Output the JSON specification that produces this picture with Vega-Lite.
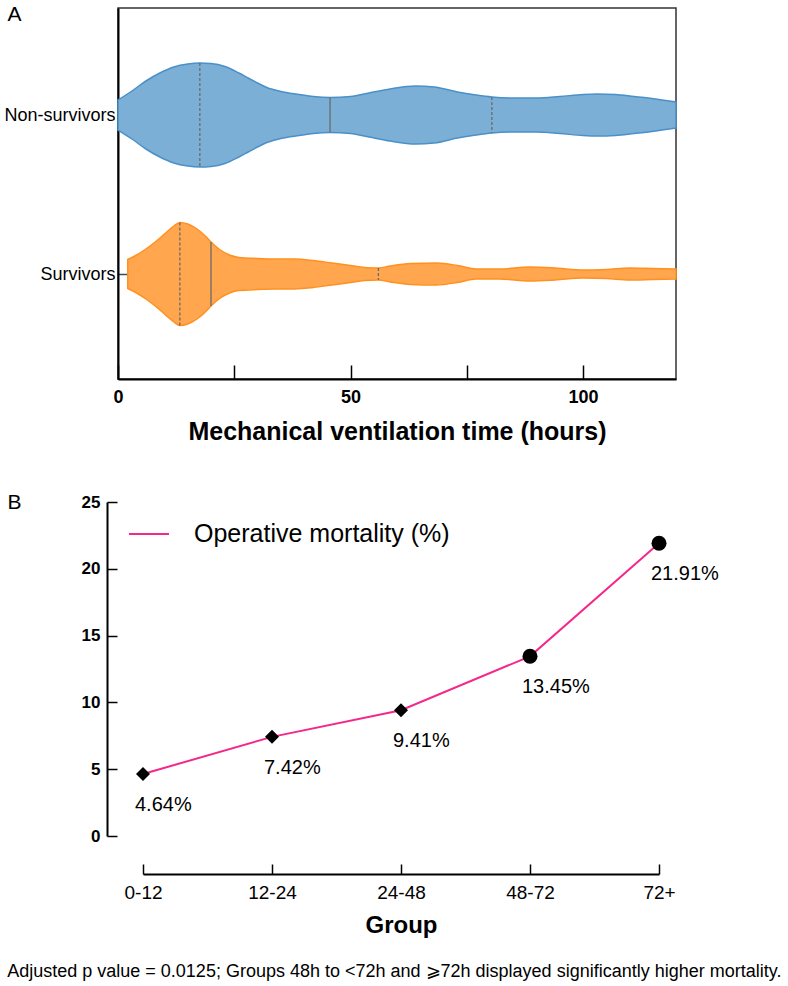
{
  "$schema": "https://vega.github.io/schema/vega-lite/v6.json",
  "background": "white",
  "padding": {"left": 3, "top": 2, "right": 5, "bottom": 5},
  "config": {"font": "Liberation Sans", "view": {"stroke": null}},
  "title": {
    "text": "Adjusted p value = 0.0125; Groups 48h to <72h and ⩾72h displayed significantly higher mortality.",
    "orient": "bottom", "anchor": "start", "fontSize": 18, "fontWeight": "normal",
    "color": "black", "offset": 26, "dx": 4
  },
  "resolve": {
    "scale": {"color": "independent", "stroke": "independent", "strokeDash": "independent", "shape": "independent", "size": "independent"},
    "legend": {"color": "independent"}
  },
  "columns": 1,
  "spacing": 46,
  "concat": [
    {
      "width": 558,
      "height": 371,
      "view": {"stroke": "#333", "strokeWidth": 1.5},
      "layer": [
        {
          "data": {"values": [
            {"group": "Non-survivors", "hours": 0, "upper": 279, "lower": 249},
            {"group": "Non-survivors", "hours": 3, "upper": 288, "lower": 240},
            {"group": "Non-survivors", "hours": 6, "upper": 298, "lower": 230},
            {"group": "Non-survivors", "hours": 9, "upper": 306, "lower": 222},
            {"group": "Non-survivors", "hours": 12, "upper": 312, "lower": 216},
            {"group": "Non-survivors", "hours": 15, "upper": 315, "lower": 213},
            {"group": "Non-survivors", "hours": 17.6, "upper": 316, "lower": 212},
            {"group": "Non-survivors", "hours": 20, "upper": 315.5, "lower": 212.5},
            {"group": "Non-survivors", "hours": 23, "upper": 312.5, "lower": 215.5},
            {"group": "Non-survivors", "hours": 26, "upper": 306, "lower": 222},
            {"group": "Non-survivors", "hours": 28, "upper": 301, "lower": 227},
            {"group": "Non-survivors", "hours": 30, "upper": 296, "lower": 232},
            {"group": "Non-survivors", "hours": 32, "upper": 291.5, "lower": 236.5},
            {"group": "Non-survivors", "hours": 35, "upper": 287.5, "lower": 240.5},
            {"group": "Non-survivors", "hours": 39, "upper": 284.5, "lower": 243.5},
            {"group": "Non-survivors", "hours": 42, "upper": 282.5, "lower": 245.5},
            {"group": "Non-survivors", "hours": 45.6, "upper": 281.5, "lower": 246.5},
            {"group": "Non-survivors", "hours": 50, "upper": 282.5, "lower": 245.5},
            {"group": "Non-survivors", "hours": 54, "upper": 286, "lower": 242},
            {"group": "Non-survivors", "hours": 58.5, "upper": 290, "lower": 238},
            {"group": "Non-survivors", "hours": 64, "upper": 293, "lower": 235},
            {"group": "Non-survivors", "hours": 68, "upper": 292, "lower": 236},
            {"group": "Non-survivors", "hours": 73, "upper": 287, "lower": 241},
            {"group": "Non-survivors", "hours": 77, "upper": 284, "lower": 244},
            {"group": "Non-survivors", "hours": 80.4, "upper": 282, "lower": 246},
            {"group": "Non-survivors", "hours": 85, "upper": 281, "lower": 247},
            {"group": "Non-survivors", "hours": 90, "upper": 281, "lower": 247},
            {"group": "Non-survivors", "hours": 95, "upper": 282.5, "lower": 245.5},
            {"group": "Non-survivors", "hours": 100, "upper": 284.5, "lower": 243.5},
            {"group": "Non-survivors", "hours": 103, "upper": 285, "lower": 243},
            {"group": "Non-survivors", "hours": 107, "upper": 284.5, "lower": 243.5},
            {"group": "Non-survivors", "hours": 111, "upper": 282.5, "lower": 245.5},
            {"group": "Non-survivors", "hours": 114, "upper": 281, "lower": 247},
            {"group": "Non-survivors", "hours": 117, "upper": 279, "lower": 249},
            {"group": "Non-survivors", "hours": 120, "upper": 277, "lower": 251},
            {"group": "Survivors", "hours": 2.1, "upper": 119.5, "lower": 90.5},
            {"group": "Survivors", "hours": 4, "upper": 124, "lower": 86},
            {"group": "Survivors", "hours": 6, "upper": 130, "lower": 80},
            {"group": "Survivors", "hours": 8, "upper": 137, "lower": 73},
            {"group": "Survivors", "hours": 10, "upper": 145, "lower": 65},
            {"group": "Survivors", "hours": 12, "upper": 153, "lower": 57},
            {"group": "Survivors", "hours": 13.3, "upper": 156.5, "lower": 53.5},
            {"group": "Survivors", "hours": 15, "upper": 155, "lower": 55},
            {"group": "Survivors", "hours": 17, "upper": 150, "lower": 60},
            {"group": "Survivors", "hours": 19, "upper": 142, "lower": 68},
            {"group": "Survivors", "hours": 20, "upper": 137, "lower": 73},
            {"group": "Survivors", "hours": 22, "upper": 129, "lower": 81},
            {"group": "Survivors", "hours": 24, "upper": 124, "lower": 86},
            {"group": "Survivors", "hours": 26, "upper": 121.5, "lower": 88.5},
            {"group": "Survivors", "hours": 30, "upper": 120.5, "lower": 89.5},
            {"group": "Survivors", "hours": 34, "upper": 120, "lower": 90},
            {"group": "Survivors", "hours": 38, "upper": 120, "lower": 90},
            {"group": "Survivors", "hours": 42, "upper": 118.5, "lower": 91.5},
            {"group": "Survivors", "hours": 46, "upper": 116, "lower": 94},
            {"group": "Survivors", "hours": 50, "upper": 113.5, "lower": 96.5},
            {"group": "Survivors", "hours": 53, "upper": 111.5, "lower": 98.5},
            {"group": "Survivors", "hours": 56, "upper": 111, "lower": 99},
            {"group": "Survivors", "hours": 58.5, "upper": 113, "lower": 97},
            {"group": "Survivors", "hours": 63, "upper": 115.5, "lower": 94.5},
            {"group": "Survivors", "hours": 68.5, "upper": 116, "lower": 94},
            {"group": "Survivors", "hours": 73, "upper": 113.5, "lower": 96.5},
            {"group": "Survivors", "hours": 77, "upper": 110, "lower": 100},
            {"group": "Survivors", "hours": 82, "upper": 110, "lower": 100},
            {"group": "Survivors", "hours": 88.6, "upper": 112, "lower": 98},
            {"group": "Survivors", "hours": 94, "upper": 111, "lower": 99},
            {"group": "Survivors", "hours": 100, "upper": 109, "lower": 101},
            {"group": "Survivors", "hours": 105, "upper": 109.5, "lower": 100.5},
            {"group": "Survivors", "hours": 110, "upper": 111, "lower": 99},
            {"group": "Survivors", "hours": 115, "upper": 110.5, "lower": 99.5},
            {"group": "Survivors", "hours": 120, "upper": 110, "lower": 100}
          ]},
          "mark": {"type": "area", "interpolate": "monotone", "strokeWidth": 1.5, "fillOpacity": 1},
          "encoding": {
            "x": {
              "field": "hours", "type": "quantitative",
              "scale": {"domain": [0, 120], "nice": false, "zero": false},
              "axis": {
                "values": [0, 25, 50, 75, 100],
                "labelExpr": "datum.value % 50 === 0 ? datum.label : ''",
                "tickSize": -14,
                "encode": {"ticks": {"update": {"y2": {"signal": "datum.value % 50 === 0 ? -14 : -7"}}}},
                "labelFlush": false,
                "labelFontWeight": "bold", "labelFontSize": 18, "labelColor": "black", "labelPadding": 23,
                "domainColor": "black", "domainWidth": 2, "tickColor": "black", "tickWidth": 1.5,
                "grid": false,
                "title": "Mechanical ventilation time (hours)",
                "titleFontSize": 25, "titleFontWeight": "bold", "titleColor": "black", "titlePadding": 13
              }
            },
            "y": {
              "field": "upper", "type": "quantitative",
              "scale": {"domain": [0, 371], "nice": false, "zero": false},
              "axis": {
                "values": [105, 264],
                "labelExpr": "datum.value === 264 ? 'Non-survivors' : 'Survivors'",
                "tickSize": -10, "labelPadding": 13,
                "labelFontSize": 18, "labelColor": "black",
                "domainColor": "black", "domainWidth": 2, "tickColor": "#2d4f6e", "tickWidth": 1.5,
                "grid": false,
                "title": "A", "titleAngle": 0, "titleX": -111, "titleY": 6,
                "titleAlign": "left", "titleBaseline": "middle",
                "titleFontSize": 21, "titleFontWeight": "normal", "titleColor": "black"
              }
            },
            "y2": {"field": "lower"},
            "color": {
              "field": "group", "type": "nominal",
              "scale": {"domain": ["Non-survivors", "Survivors"], "range": ["#7BAFD5", "#FFA64E"]},
              "legend": null
            },
            "stroke": {
              "field": "group", "type": "nominal",
              "scale": {"domain": ["Non-survivors", "Survivors"], "range": ["#4A90C9", "#FF9120"]},
              "legend": null
            }
          }
        },
        {
          "data": {"values": [
            {"group": "Non-survivors", "stat": "quartile", "hours": 17.6, "upper": 316, "lower": 212},
            {"group": "Non-survivors", "stat": "median", "hours": 45.6, "upper": 281.5, "lower": 246.5},
            {"group": "Non-survivors", "stat": "quartile", "hours": 80.4, "upper": 282, "lower": 246},
            {"group": "Survivors", "stat": "quartile", "hours": 13.3, "upper": 156.5, "lower": 53.5},
            {"group": "Survivors", "stat": "median", "hours": 20, "upper": 137, "lower": 73},
            {"group": "Survivors", "stat": "quartile", "hours": 56, "upper": 111, "lower": 99}
          ]},
          "mark": {"type": "rule", "strokeWidth": 1.3, "color": "#6a6a6a"},
          "encoding": {
            "x": {"field": "hours", "type": "quantitative"},
            "y": {"field": "upper", "type": "quantitative"},
            "y2": {"field": "lower"},
            "strokeDash": {
              "field": "stat", "type": "nominal",
              "scale": {"domain": ["quartile", "median"], "range": [[3, 2], [1, 0]]},
              "legend": null
            }
          }
        }
      ]
    },
    {
      "width": 566,
      "height": 334,
      "data": {"values": [
        {"group": "0-12", "mortality": 4.64, "label": "4.64%", "significant": "no"},
        {"group": "12-24", "mortality": 7.42, "label": "7.42%", "significant": "no"},
        {"group": "24-48", "mortality": 9.41, "label": "9.41%", "significant": "no"},
        {"group": "48-72", "mortality": 13.45, "label": "13.45%", "significant": "yes"},
        {"group": "72+", "mortality": 21.91, "label": "21.91%", "significant": "yes"}
      ]},
      "encoding": {
        "x": {
          "field": "group", "type": "ordinal", "sort": null,
          "scale": {"type": "point", "padding": 0, "range": [25, 541]},
          "axis": {
            "offset": 38, "tickSize": -10, "labelPadding": 19, "labelAngle": 0,
            "labelFontSize": 19, "labelColor": "black",
            "domainColor": "black", "domainWidth": 2, "tickColor": "black", "tickWidth": 1.5,
            "title": "Group", "titleFontSize": 24, "titleFontWeight": "bold", "titleColor": "black", "titlePadding": 11
          }
        },
        "y": {
          "field": "mortality", "type": "quantitative",
          "scale": {"domain": [0, 25], "nice": false},
          "axis": {
            "values": [0, 5, 10, 15, 20, 25], "offset": 11,
            "tickSize": -10, "labelPadding": 17,
            "labelFontWeight": "bold", "labelFontSize": 17, "labelColor": "black",
            "domainColor": "black", "domainWidth": 2, "tickColor": "black", "tickWidth": 1.5,
            "grid": false,
            "title": "B", "titleAngle": 0, "titleX": -100, "titleY": 0,
            "titleAlign": "left", "titleBaseline": "middle",
            "titleFontSize": 21, "titleFontWeight": "normal", "titleColor": "black"
          }
        }
      },
      "layer": [
        {
          "mark": {"type": "line", "strokeWidth": 2},
          "encoding": {
            "color": {
              "datum": "Operative mortality (%)",
              "scale": {"range": ["#F4288A"]},
              "legend": {
                "orient": "none", "legendX": 10, "legendY": 11, "title": null,
                "symbolType": "stroke", "symbolSize": 1600, "symbolStrokeWidth": 2,
                "labelFontSize": 25, "labelOffset": 24, "labelLimit": 500, "labelColor": "black", "padding": 0
              }
            }
          }
        },
        {
          "mark": {"type": "point", "filled": true, "opacity": 1, "color": "black"},
          "encoding": {
            "shape": {
              "field": "significant", "type": "nominal",
              "scale": {"domain": ["no", "yes"], "range": ["diamond", "circle"]},
              "legend": null
            },
            "size": {
              "field": "significant", "type": "nominal",
              "scale": {"domain": ["no", "yes"], "range": [196, 225]},
              "legend": null
            }
          }
        },
        {
          "mark": {"type": "text", "align": "left", "baseline": "middle", "dx": -8, "dy": 31, "fontSize": 20, "color": "black"},
          "encoding": {"text": {"field": "label"}}
        }
      ]
    }
  ]
}
